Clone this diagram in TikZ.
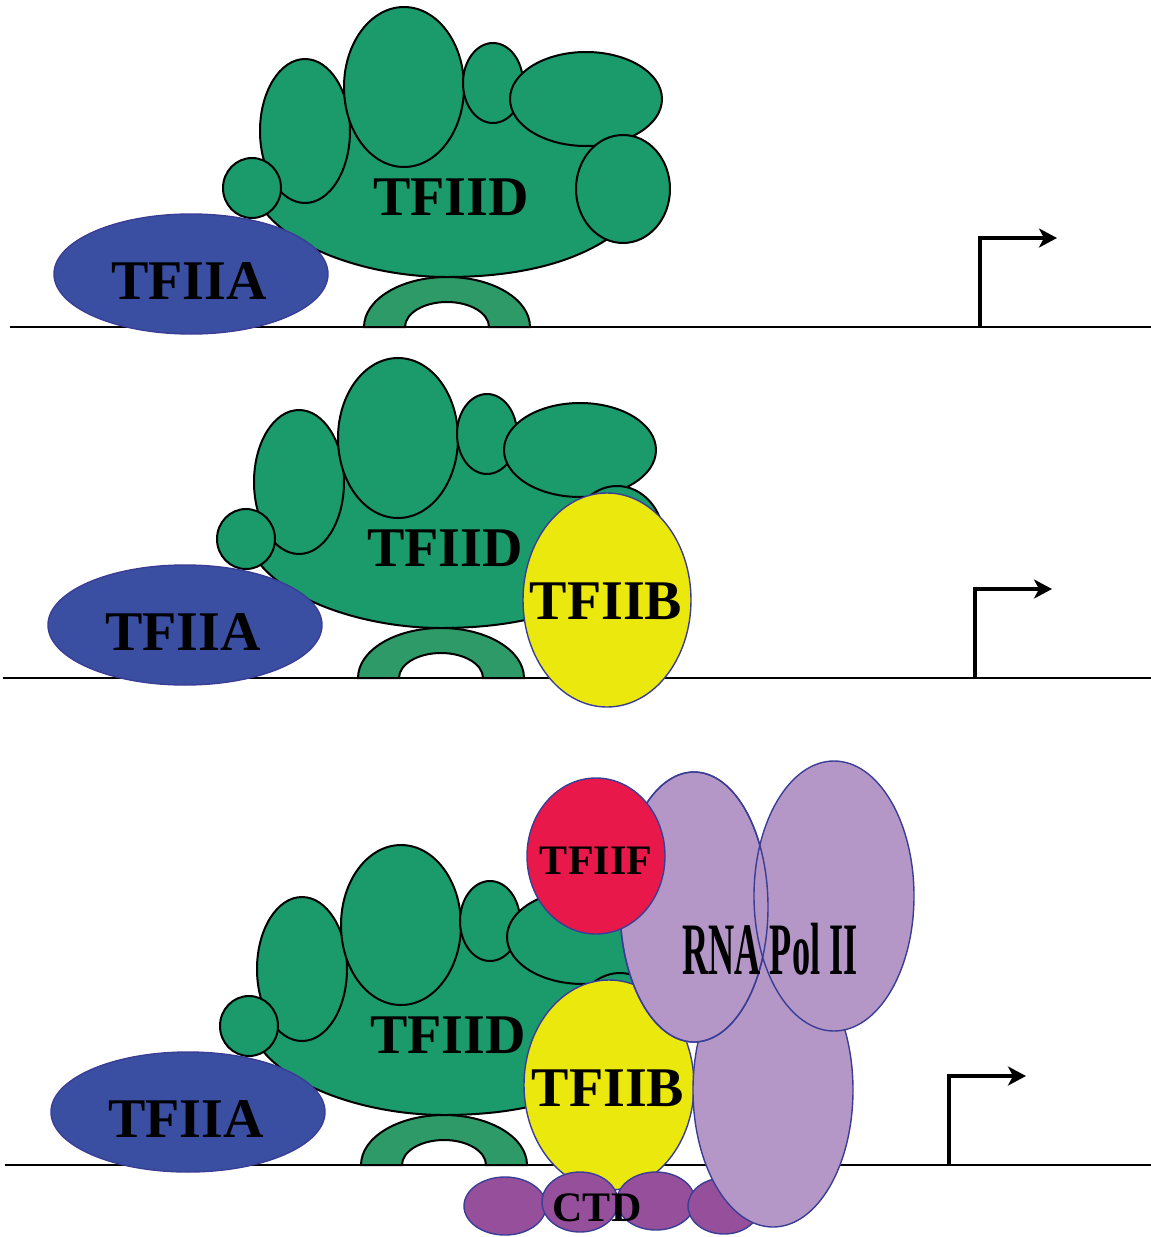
\documentclass[tikz,border=0pt]{standalone}
\usepackage{fontspec}
\setmainfont{Liberation Serif}
\usetikzlibrary{arrows.meta}

\definecolor{tfiidgreen}{HTML}{1B9A6C}
\definecolor{tbpgreen}{HTML}{2E9A68}
\definecolor{tfiiablue}{HTML}{3A4FA2}
\definecolor{tfiibyellow}{HTML}{EBE80E}
\definecolor{tfiifred}{HTML}{E8194A}
\definecolor{polpurple}{HTML}{B497C6}
\definecolor{ctdpurple}{HTML}{964F9B}
\definecolor{rimblue}{HTML}{3A3D96}

\tikzset{
  dna/.style={line width=1pt},
  promoter/.style={line width=1.6pt, -{Stealth[length=9pt,width=9.5pt,inset=2.5pt]}},
  lobe/.style={fill=tfiidgreen, draw=black, line width=1pt},
  tbp/.style={fill=tbpgreen, draw=black, line width=1pt},
  factor/.style={draw=rimblue, line width=0.7pt},
  lbl/.style={inner sep=0pt, font=\bfseries\fontsize{28}{30}\selectfont},
  smalllbl/.style={inner sep=0pt, font=\bfseries\fontsize{21}{23}\selectfont},
}

\begin{document}
\begin{tikzpicture}[x=0.5pt, y=-0.5pt]
\useasboundingbox (0,0) rectangle (1151,1237);

% DNA with transcription start sites
\foreach \n/\y/\xs/\xp in {1/327/10/980, 2/678/3/975, 3/1165/5/949}{
  \draw[dna] (\xs,\y) -- (1151,\y);
  \coordinate (tss\n) at (\xp,\y);
  \draw[promoter] (tss\n) -- ++(0,-89) -- ++(77,0);
}

% TFIID + TFIIA + TBP, same in all three rows
\foreach \n/\dx/\dy in {1/0/0, 2/-6/351, 3/-3/838}{
  \begin{scope}[shift={(\dx,\dy)}]
    \filldraw[lobe] (265,212) .. controls (300,255) and (380,277) .. (447,277)
      .. controls (520,277) and (575,262) .. (612,236) -- (645,160) -- (620,138)
      -- (520,112) -- (493,90) -- (404,90) -- (305,100) -- (268,160) -- cycle;
    \foreach \cx/\cy/\rx/\ry in {305/131/45/72, 404/87/60/80, 493/83/30/40,
        586/99/76/47, 623/189/47/54, 252/188/29/30}
      \filldraw[lobe] (\cx,\cy) ellipse [x radius=\rx, y radius=\ry];
    \node[lbl] (tfiid\n) at (451,197) {TFIID};
    \filldraw[factor, fill=tfiiablue] (191,274) ellipse [x radius=137, y radius=60];
    \node[lbl] (tfiia\n) at (189,281) {TFIIA};
    \filldraw[tbp] (364,327) arc [start angle=180, end angle=360, x radius=83, y radius=50]
      -- (489,327) arc [start angle=0, end angle=-180, x radius=42, y radius=25] -- cycle;
  \end{scope}
}

% second row: TFIIB joins
\filldraw[factor, fill=tfiibyellow] (607,600) ellipse [x radius=84, y radius=107];
\node[lbl] (tfiib2) at (606,601) {TFIIB};

% third row: TFIIB, CTD, Pol II and TFIIF
\filldraw[factor, fill=tfiibyellow] (609,1085) ellipse [x radius=85, y radius=105];
\node[lbl] (tfiib3) at (608,1088) {TFIIB};
\foreach \cx/\cy/\rx/\ry in {505/1206/41/29, 580/1202/38/30, 656/1201/39/29, 724/1206/36/28}
  \filldraw[factor, fill=ctdpurple] (\cx,\cy) ellipse [x radius=\rx, y radius=\ry];
\node[smalllbl] (ctd) at (597,1208) {CTD};
\filldraw[factor, fill=polpurple] (773,1090) ellipse [x radius=80, y radius=137];
\filldraw[factor, fill=polpurple] (694,907) ellipse [x radius=74, y radius=135];
\filldraw[factor, fill=polpurple] (834,896) ellipse [x radius=80, y radius=135];
\draw[factor] (694,907) ellipse [x radius=74, y radius=135];
\node[inner sep=0pt, font=\bfseries\fontsize{37}{40}\selectfont] (polii) at (770,949)
  {\scalebox{0.49}[1]{RNA Pol II}};
\filldraw[factor, fill=tfiifred] (596,856) ellipse [x radius=69, y radius=78];
\node[smalllbl] (tfiif) at (596,861) {TFIIF};
\end{tikzpicture}
\end{document}
